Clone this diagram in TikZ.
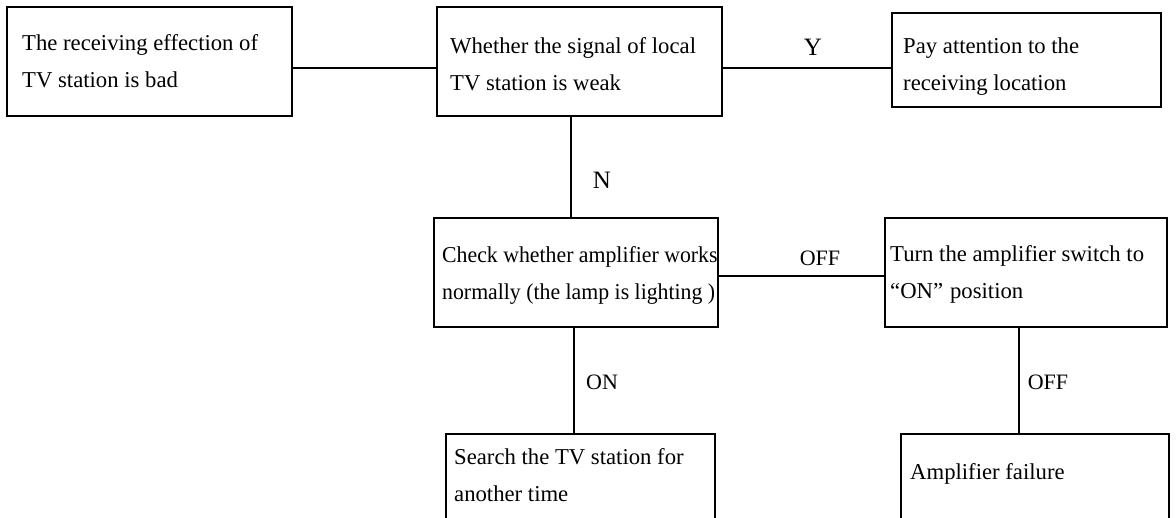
\documentclass[tikz,border=0pt]{standalone}
\usepackage{fontspec}
\setmainfont{Liberation Serif}
\usepackage{graphicx}
\begin{document}
\begin{tikzpicture}[x=1pt,y=-1pt,
  box/.style={draw, line width=1.2pt, rectangle, anchor=north west, inner sep=0pt, outer sep=0pt},
  txt/.style={anchor=west, align=left, inner sep=0pt, font=\fontsize{22.7}{37}\selectfont},
  lbl/.style={inner sep=0pt, font=\fontsize{22}{26}\selectfont},
  conn/.style={line width=1.2pt}]
\clip (0,0) rectangle (1176,518);
\fill[white] (0,0) rectangle (1176,518);
% boxes
\node[box, minimum width=285pt, minimum height=109pt] (b1) at (7,7) {};
\node[box, minimum width=285pt, minimum height=109pt] (b2) at (437,7) {};
\node[box, minimum width=269pt, minimum height=94pt] (b3) at (892,13) {};
\node[box, minimum width=284pt, minimum height=109pt] (b4) at (434,218) {};
\node[box, minimum width=282pt, minimum height=109pt] (b5) at (885,218) {};
\node[box, minimum width=269pt, minimum height=140pt] (b6) at (446,434) {};
\node[box, minimum width=268pt, minimum height=140pt] (b7) at (901,434) {};
% texts
\node[txt] (t1) at (22,62) {\strut The receiving effection of\\\strut TV station is bad};
\node[txt] (t2) at (450,65) {\strut Whether the signal of local\\\strut TV station is weak};
\node[txt] (t3) at (903,65) {\strut Pay attention to the\\\strut receiving location};
\node[txt] (t4) at (442,274) {\scalebox{0.96}[1]{\strut Check whether amplifier works}\\\scalebox{0.96}[1]{\strut normally (the lamp is lighting )}};
\node[txt] (t5) at (890,273) {\strut Turn the amplifier switch to\\\strut “ON”\hspace{7pt}position};
\node[txt] (t6) at (454,476) {\strut Search the TV station for\\\strut another time};
\node[txt] (t7) at (910,472) {\strut Amplifier failure};
% connectors
\draw[conn] ([yshift=-6.5pt]b1.east) coordinate (p1) -- (p1 -| b2.west);
\draw[conn] ([yshift=-6.5pt]b2.east) coordinate (p2) -- (p2 -| b3.west);
\draw[conn] ([xshift=-8.5pt]b2.south) coordinate (p3) -- (p3 |- b4.north);
\draw[conn] ([yshift=-3.5pt]b4.east) coordinate (p4) -- (p4 -| b5.west);
\draw[conn] ([xshift=-2pt]b4.south) coordinate (p5) -- (p5 |- b6.north);
\draw[conn] ([xshift=-7pt]b5.south) coordinate (p6) -- (p6 |- b7.north);
% labels
\node[lbl, font=\fontsize{25}{28}\selectfont] (lY) at (813,47) {Y};
\node[lbl, font=\fontsize{25}{28}\selectfont] (lN) at (602,180) {N};
\node[lbl] (lOFF1) at (820,258) {OFF};
\node[lbl] (lON) at (602,382) {ON};
\node[lbl] (lOFF2) at (1048,382) {OFF};
\end{tikzpicture}
\end{document}
